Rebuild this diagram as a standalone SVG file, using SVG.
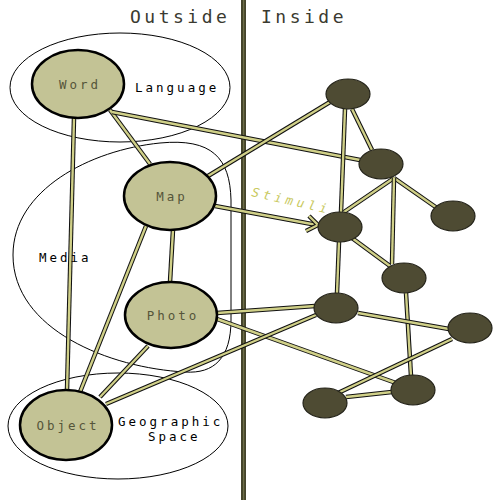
<svg xmlns="http://www.w3.org/2000/svg" width="500" height="500" viewBox="0 0 500 500">
<defs>
<style>
.bg{fill:#ffffff}
.cont{fill:none;stroke:#000;stroke-width:1}
.lbl{font-family:"DejaVu Sans Mono","Liberation Mono",monospace;font-size:12.5px;letter-spacing:3px;fill:#000}
.title{font-family:"DejaVu Sans Mono","Liberation Mono",monospace;font-size:18px;letter-spacing:3.5px;fill:#3a3a30}
.on{fill:#c3c395;stroke:#000;stroke-width:2.5}
.ot{font-family:"DejaVu Sans Mono","Liberation Mono",monospace;font-size:12.5px;letter-spacing:3px;fill:#55553a;text-anchor:middle}
.in{fill:#4e4b33;stroke:#25241a;stroke-width:1.2}
.eo{stroke:#111;stroke-width:4.5;fill:none;stroke-linecap:butt}
.ei{stroke:#d0d088;stroke-width:2.4;fill:none;stroke-linecap:butt}
.stim{font-family:"DejaVu Sans Mono","Liberation Mono",monospace;font-size:12.5px;letter-spacing:4px;fill:#c9c960;font-style:italic}
</style>
<g id="edges-def">
<path id="e1" d="M110,110 L150,164"/>
<path id="e2" d="M112,112 L360,160"/>
<path id="e3" d="M74,118 L67,390"/>
<path id="e4" d="M208,176 L330,102"/>
<path id="e5" d="M173,230 L170,282"/>
<path id="e6" d="M146,226 L80,392"/>
<path id="e7" d="M148,346 L100,397"/>
<path id="e8" d="M217,313 L315,306"/>
<path id="e9" d="M217,319 L396,383"/>
<path id="e10" d="M106,404 L316,315"/>
<path id="e11" d="M345,109 L341,212"/>
<path id="e12" d="M352,109 L372,150"/>
<path id="e13" d="M394,178 L344,212"/>
<path id="e14" d="M394,178 L437,208"/>
<path id="e15" d="M394,178 L392,264"/>
<path id="e16" d="M352,238 L390,266"/>
<path id="e17" d="M339,242 L337,293"/>
<path id="e18" d="M406,293 L411,376"/>
<path id="e19" d="M358,313 L449,329"/>
<path id="e20" d="M452,339 L338,393"/>
<path id="e21" d="M346,397 L392,392"/>
<path id="e22" d="M215,206 L317,225"/>
</g>
</defs>
<rect class="bg" x="0" y="0" width="500" height="500"/>

<g id="containers">
<ellipse class="cont" cx="120" cy="87.5" rx="110" ry="54.5"/>
<path class="cont" d="M13,255 C13,190 90,150 160,143 C212,138 230,158 231,200 L231,320 C231,358 214,374 185,372 C110,368 13,330 13,255 Z"/>
<ellipse class="cont" cx="118" cy="426" rx="110" ry="53"/>
</g>

<g id="divider">
<rect x="241" y="0" width="5" height="500" fill="#45452c"/>
<rect x="243" y="0" width="1.2" height="500" fill="#6e6e48"/>
</g>

<g id="connectors">
<use href="#e1" class="eo"/><use href="#e1" class="ei"/>
<use href="#e2" class="eo"/><use href="#e2" class="ei"/>
<use href="#e3" class="eo"/><use href="#e3" class="ei"/>
<use href="#e4" class="eo"/><use href="#e4" class="ei"/>
<use href="#e5" class="eo"/><use href="#e5" class="ei"/>
<use href="#e6" class="eo"/><use href="#e6" class="ei"/>
<use href="#e7" class="eo"/><use href="#e7" class="ei"/>
<use href="#e8" class="eo"/><use href="#e8" class="ei"/>
<use href="#e9" class="eo"/><use href="#e9" class="ei"/>
<use href="#e10" class="eo"/><use href="#e10" class="ei"/>
<use href="#e11" class="eo"/><use href="#e11" class="ei"/>
<use href="#e12" class="eo"/><use href="#e12" class="ei"/>
<use href="#e13" class="eo"/><use href="#e13" class="ei"/>
<use href="#e14" class="eo"/><use href="#e14" class="ei"/>
<use href="#e15" class="eo"/><use href="#e15" class="ei"/>
<use href="#e16" class="eo"/><use href="#e16" class="ei"/>
<use href="#e17" class="eo"/><use href="#e17" class="ei"/>
<use href="#e18" class="eo"/><use href="#e18" class="ei"/>
<use href="#e19" class="eo"/><use href="#e19" class="ei"/>
<use href="#e20" class="eo"/><use href="#e20" class="ei"/>
<use href="#e21" class="eo"/><use href="#e21" class="ei"/>
<g id="stimuli-arrow">
<use href="#e22" class="eo"/><use href="#e22" class="ei"/>
<path d="M309,216 L318,225 L306,231" fill="none" stroke="#111" stroke-width="4.5" stroke-linejoin="miter"/>
<path d="M309,216 L318,225 L306,231" fill="none" stroke="#d0d088" stroke-width="2.4" stroke-linejoin="miter"/>
<text class="stim" x="251" y="196" transform="rotate(13 251 196)">Stimuli</text>
</g>
</g>

<g id="node-word"><ellipse class="on" cx="78" cy="84" rx="46" ry="34"/><text class="ot" x="80" y="89">Word</text></g>
<g id="node-map"><ellipse class="on" cx="170" cy="196" rx="46" ry="34"/><text class="ot" x="172" y="201">Map</text></g>
<g id="node-photo"><ellipse class="on" cx="171" cy="315" rx="46" ry="33"/><text class="ot" x="173" y="320">Photo</text></g>
<g id="node-object"><ellipse class="on" cx="66" cy="425" rx="46" ry="35"/><text class="ot" x="68" y="430">Object</text></g>

<g id="n1"><ellipse class="in" cx="348" cy="94" rx="22" ry="15"/></g>
<g id="n2"><ellipse class="in" cx="381" cy="164" rx="22" ry="15"/></g>
<g id="n3"><ellipse class="in" cx="340" cy="227" rx="22" ry="15"/></g>
<g id="n4"><ellipse class="in" cx="453" cy="216" rx="22" ry="15"/></g>
<g id="n5"><ellipse class="in" cx="404" cy="278" rx="22" ry="15"/></g>
<g id="n6"><ellipse class="in" cx="336" cy="308" rx="22" ry="15"/></g>
<g id="n7"><ellipse class="in" cx="470" cy="328" rx="22" ry="15"/></g>
<g id="n8"><ellipse class="in" cx="325" cy="403" rx="22" ry="15"/></g>
<g id="n9"><ellipse class="in" cx="413" cy="390" rx="22" ry="15"/></g>

<g id="labels">
<text class="title" x="130" y="23">Outside</text>
<text class="title" x="261" y="23">Inside</text>
<text class="lbl" x="135" y="92">Language</text>
<text class="lbl" x="39" y="262">Media</text>
<text class="lbl" x="118" y="426">Geographic</text>
<text class="lbl" x="148" y="441">Space</text>
</g>
</svg>
